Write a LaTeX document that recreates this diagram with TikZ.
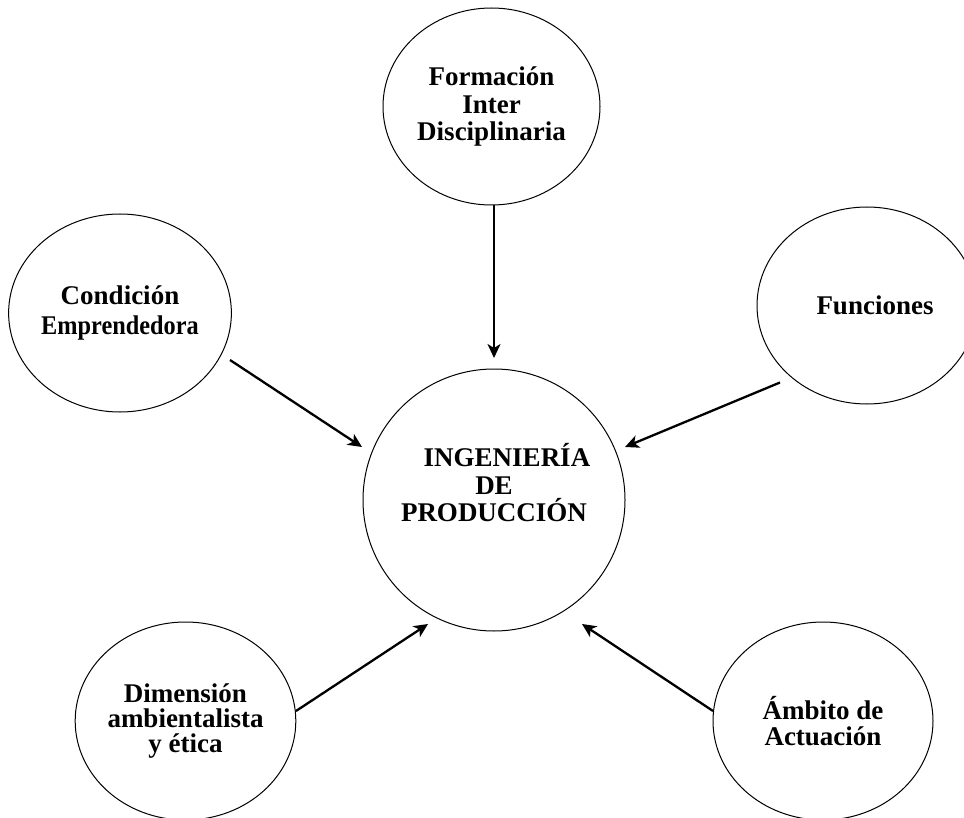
\documentclass[tikz,border=0pt]{standalone}
\usepackage{graphicx}
\usepackage{fontspec}
\setmainfont{Liberation Serif}
\usetikzlibrary{shapes.geometric,arrows.meta}
\begin{document}
\begin{tikzpicture}[x=1pt,y=-1pt,
  bubble/.style={ellipse,draw,line width=1pt,inner sep=0pt,minimum width=220pt,minimum height=198pt,align=center},
  hub/.style={circle,draw,line width=1pt,inner sep=0pt,minimum size=262pt},
  txt/.style={align=center,inner sep=0pt},
  arr/.style={line width=2.3pt,-{Stealth[length=14pt,width=13pt,inset=4pt]}}]
\clip (0,0) rectangle (964,818);
\fill[white] (0,0) rectangle (964,818);

\node[bubble,minimum width=217pt,minimum height=197pt,font={\bfseries\fontsize{27}{27.5}\selectfont}] (fid) at (491.5,106.5) {Formación\\Inter\\Disciplinaria};
\node[bubble,font={\bfseries\fontsize{27}{30}\selectfont}] (cond) at (120,313) {Condición\\\scalebox{0.9}[1]{Emprendedora}};
\node[bubble,minimum height=197pt,font={\bfseries\fontsize{27}{28}\selectfont}] (fun) at (867,305.5) {\hspace*{16pt}Funciones};
\node[hub] (ing) at (494,500) {};
\node[txt,font={\bfseries\fontsize{27}{27.5}\selectfont}] (ingtxt) at (494,483) {\hspace*{26pt}INGENIERÍA\\DE\\PRODUCCIÓN};
\node[bubble,minimum width=219pt,font={\bfseries\fontsize{27}{25}\selectfont}] (dim) at (185.5,721) {Dimensión\\ambientalista\\y ética};
\node[bubble,font={\bfseries\fontsize{27}{25.5}\selectfont}] (amb) at (823,721) {Ámbito de\\Actuación};

\draw[arr] ([shift={(2.5,98.5)}]fid.center) -- ([shift={(0,-142)}]ing.center);
\draw[arr] ([shift={(110,47)}]cond.center) -- ([shift={(-132,-53)}]ing.center);
\draw[arr] ([shift={(-87,77)}]fun.center) -- ([shift={(131,-53)}]ing.center);
\draw[arr] ([shift={(110.5,-10)}]dim.center) -- ([shift={(-66,124)}]ing.center);
\draw[arr] ([shift={(-110,-10)}]amb.center) -- ([shift={(88,124)}]ing.center);
\end{tikzpicture}
\end{document}
